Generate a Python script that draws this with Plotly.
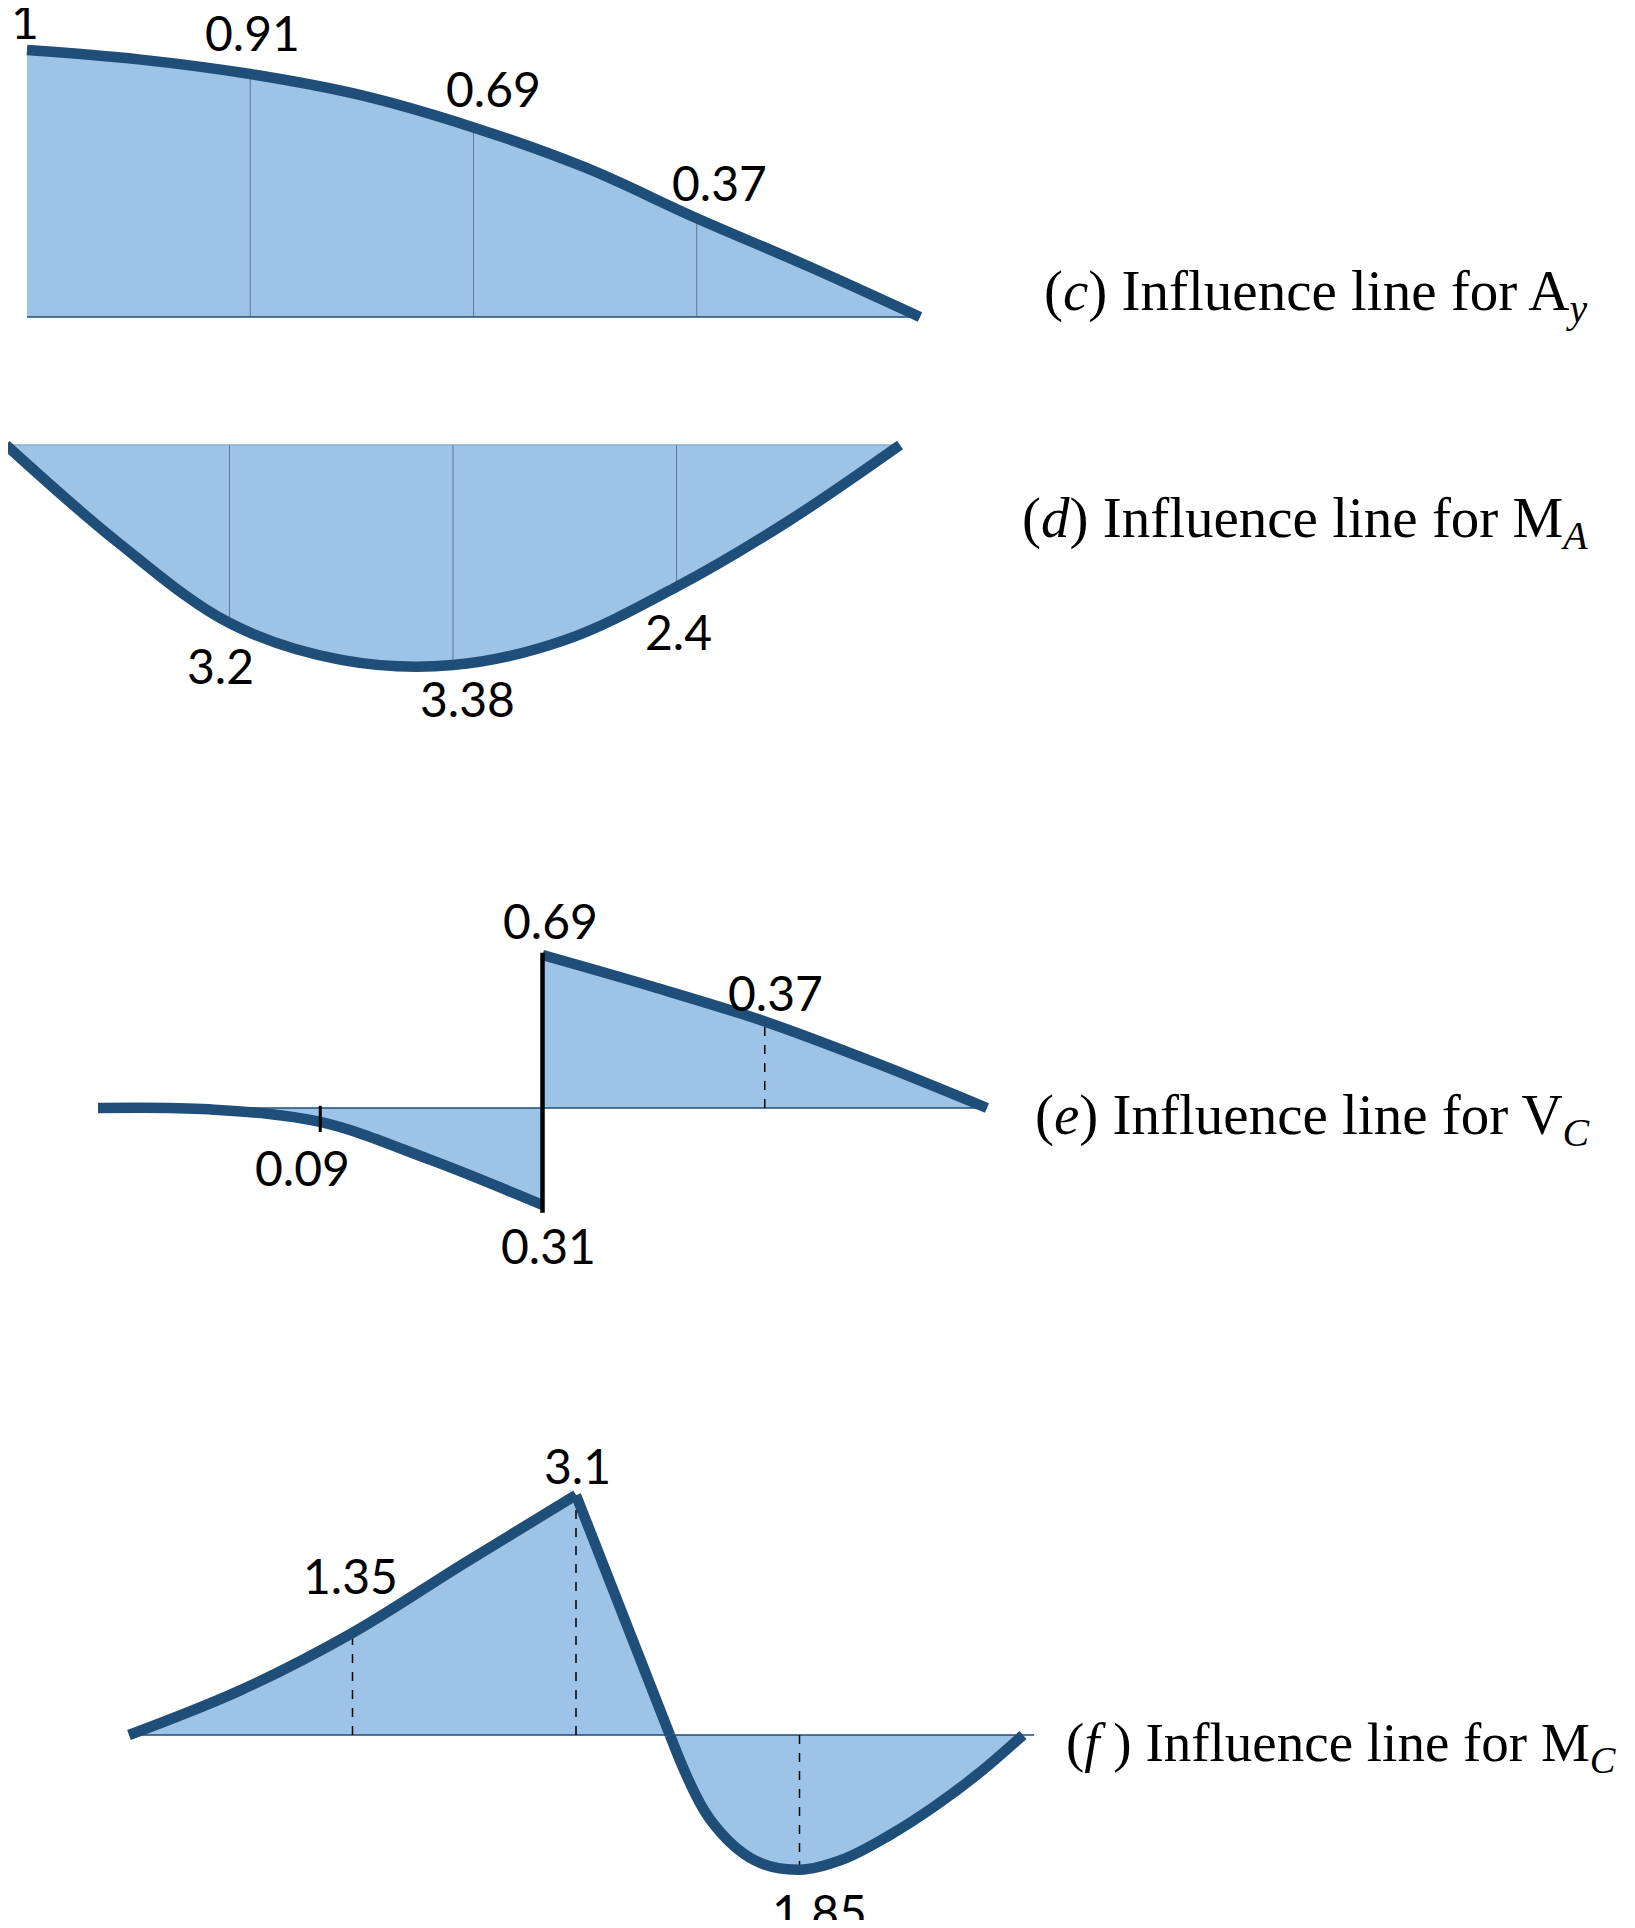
import numpy as np
import plotly.graph_objects as go

# ---------------- data ----------------
stations = [0, 1, 2, 3, 4]

# (c) influence line for Ay  (drawn ordinates)
ay_x = [0, 0.5, 1, 1.5, 2, 2.5, 3, 3.5, 4]
ay_y = [1.0, 0.965, 0.91, 0.83, 0.71, 0.56, 0.37, 0.19, 0.0]
ay_labels = ["1", "0.91", "0.69", "0.37"]
ay_label_st = [0, 1, 2, 3]

# (d) influence line for MA (drawn ordinates, downward)
ma_x = [0, 0.5, 1, 1.5, 2, 2.5, 3, 3.5, 4]
ma_y = [0, -1.48, -2.71, -3.27, -3.35, -2.97, -2.16, -1.16, 0]
ma_labels = ["3.2", "3.38", "2.4"]
ma_label_st = [1, 2, 3]

# (e) influence line for VC
vc_left_x = [0, 0.5, 1, 1.5, 2]
vc_left_y = [0, -0.006, -0.063, -0.235, -0.437]
vc_right_x = [2, 2.5, 3, 3.5, 4]
vc_right_y = [0.689, 0.545, 0.39, 0.203, 0.0]
vc_labels = ["0.69", "0.31", "0.09", "0.37"]

# (f) influence line for MC
mc_left_x = [0, 0.5, 1, 1.5, 2]
mc_left_y = [0, 0.58, 1.32, 2.22, 3.10]
mc_drop_x = [2, 2.42]
mc_drop_y = [3.10, 0]
mc_neg_x = [2.42, 2.6, 2.8, 3.0, 3.2, 3.4, 3.6, 3.8, 4.0]
mc_neg_y = [0, -1.09, -1.62, -1.74, -1.60, -1.30, -0.93, -0.50, 0]
mc_labels = ["1.35", "3.1", "1.85"]
mc_label_st = [1, 2, 3]

captions = [
    "(<i>c</i>) Influence line for A<sub><i>y</i></sub>",
    "(<i>d</i>) Influence line for M<sub><i>A</i></sub>",
    "(<i>e</i>) Influence line for V<sub><i>C</i></sub>",
    "(<i>f</i> ) Influence line for M<sub><i>C</i></sub>",
]

# ---------------- styling / geometry ----------------
FILL = "#9DC3E6"
LINE = "#1F4E79"
OFF = 8
W, H = 1635 - 2 * OFF, 1928 - 2 * OFF
NUM_FONT = dict(family="Lato", size=48, color="black")
CAP_FONT = dict(family="Liberation Serif", size=57, color="black")

# page-pixel geometry of each panel: left end, right end, baseline, px per unit, band top/bottom
panels = [
    dict(xl=27, xr=920, base=317, s=267, top=0, bot=390),
    dict(xl=6, xr=900, base=445, s=65.7, top=390, bot=770),
    dict(xl=98, xr=987, base=1108, s=222, top=850, bot=1300),
    dict(xl=129, xr=1023, base=1735, s=77.4, top=1380, bot=1928),
]

fig = go.Figure()
layout_axes = {}
for i, p in enumerate(panels):
    n = "" if i == 0 else str(i + 1)
    sx = (p["xr"] - p["xl"]) / 4
    top = max(p["top"], OFF)
    bot = min(p["bot"], OFF + H)
    layout_axes["xaxis" + n] = dict(
        domain=[0, 1], range=[(OFF - p["xl"]) / sx, (OFF + W - p["xl"]) / sx],
        visible=False, fixedrange=True, anchor="y" + n)
    layout_axes["yaxis" + n] = dict(
        domain=[1 - (bot - OFF) / H, 1 - (top - OFF) / H],
        range=[(p["base"] - bot) / p["s"], (p["base"] - top) / p["s"]],
        visible=False, fixedrange=True, anchor="x" + n)


def ax(i):
    n = "" if i == 0 else str(i + 1)
    return "x" + n, "y" + n


def fill(i, x, y, shape="spline"):
    xa, ya = ax(i)
    fig.add_trace(go.Scatter(x=x, y=y, mode="lines", fill="tozeroy", fillcolor=FILL,
                             line=dict(width=0, shape=shape),
                             xaxis=xa, yaxis=ya, hoverinfo="skip"))


def curve(i, x, y, shape="spline"):
    xa, ya = ax(i)
    fig.add_trace(go.Scatter(x=x, y=y, mode="lines",
                             line=dict(width=10.5, color=LINE, shape=shape),
                             xaxis=xa, yaxis=ya, hoverinfo="skip"))


def seg(i, x, y, color, width, dash="solid"):
    xa, ya = ax(i)
    fig.add_trace(go.Scatter(x=x, y=y, mode="lines",
                             line=dict(width=width, color=color, dash=dash),
                             xaxis=xa, yaxis=ya, hoverinfo="skip"))


def label(i, text, x, y, dx, dy):
    xa, ya = ax(i)
    fig.add_annotation(x=x, y=y, xref=xa, yref=ya, text=text, showarrow=False,
                       xshift=dx, yshift=dy, font=NUM_FONT)


# ---- (c) ----
fill(0, ay_x, ay_y)
seg(0, [0, 4], [0, 0], LINE, 1.5)
for st in stations[1:4]:
    seg(0, [st, st], [0, np.interp(st, ay_x, ay_y)], "rgba(70,85,100,0.7)", 1)
curve(0, ay_x, ay_y)
for t, st, (dx, dy) in zip(ay_labels, ay_label_st, [(-2, 30), (2, 42), (20, 39), (23, 36)]):
    label(0, t, st, np.interp(st, ay_x, ay_y), dx, dy)

# ---- (d) ----
fill(1, ma_x, ma_y)
seg(1, [0, 4], [0, 0], "#8FAFD3", 1.5)
for st in stations[1:4]:
    seg(1, [st, st], [0, np.interp(st, ma_x, ma_y)], "rgba(70,85,100,0.7)", 1)
curve(1, ma_x, ma_y)
for t, st, (dx, dy) in zip(ma_labels, ma_label_st, [(-9, -42), (14, -33), (2, -45)]):
    label(1, t, st, np.interp(st, ma_x, ma_y), dx, dy)

# ---- (e) ----
fill(2, vc_left_x, vc_left_y)
fill(2, vc_right_x, vc_right_y)
seg(2, [0.6, 4], [0, 0], LINE, 1.5)
seg(2, [3, 3], [0, np.interp(3, vc_right_x, vc_right_y)], "black", 1.5, "dash")
curve(2, vc_left_x, vc_left_y)
curve(2, vc_right_x, vc_right_y)
seg(2, [2, 2], [vc_left_y[-1] - 0.035, vc_right_y[0] + 0.01], "black", 4.5)
seg(2, [1, 1], [0.01, -0.108], "black", 3)
label(2, vc_labels[0], 2, vc_right_y[0], 8, 35)
label(2, vc_labels[1], 2, vc_left_y[-1], 6, -40)
label(2, vc_labels[2], 1, np.interp(1, vc_left_x, vc_left_y), -18, -46)
label(2, vc_labels[3], 3, np.interp(3, vc_right_x, vc_right_y), 11, 29)

# ---- (f) ----
fill(3, mc_left_x, mc_left_y)
fill(3, mc_drop_x, mc_drop_y, "linear")
fill(3, mc_neg_x, mc_neg_y)
seg(3, [0, 4.05], [0, 0], LINE, 1.5)
mc_all_x = mc_left_x + mc_drop_x[1:] + mc_neg_x[1:]
mc_all_y = mc_left_y + mc_drop_y[1:] + mc_neg_y[1:]
for st in stations[1:4]:
    seg(3, [st, st], [0, np.interp(st, mc_all_x, mc_all_y)], "black", 1.5, "dash")
curve(3, mc_left_x, mc_left_y)
curve(3, mc_drop_x, mc_drop_y, "linear")
curve(3, mc_neg_x, mc_neg_y)
for t, st, (dx, dy) in zip(mc_labels, mc_label_st, [(-2, 57), (1, 30), (20, -42)]):
    label(3, t, st, np.interp(st, mc_all_x, mc_all_y), dx, dy)

# ---- captions ----
cap_pos = [(1042, 295), (1020, 522), (1033, 1119), (1064, 1746)]
cap_size = [57, 57, 57, 55]
for txt, (px, py), fs in zip(captions, cap_pos, cap_size):
    fig.add_annotation(x=(px - OFF) / W, y=1 - (py - OFF) / H, xref="paper", yref="paper",
                       text=txt, showarrow=False, xanchor="left", yanchor="middle",
                       font=dict(CAP_FONT, size=fs))

fig.update_layout(
    width=W, height=H, autosize=False,
    margin=dict(l=0, r=0, t=0, b=0, pad=0),
    paper_bgcolor="white", plot_bgcolor="rgba(0,0,0,0)",
    showlegend=False, hovermode=False,
    **layout_axes,
)

fig.write_html("out.html")
